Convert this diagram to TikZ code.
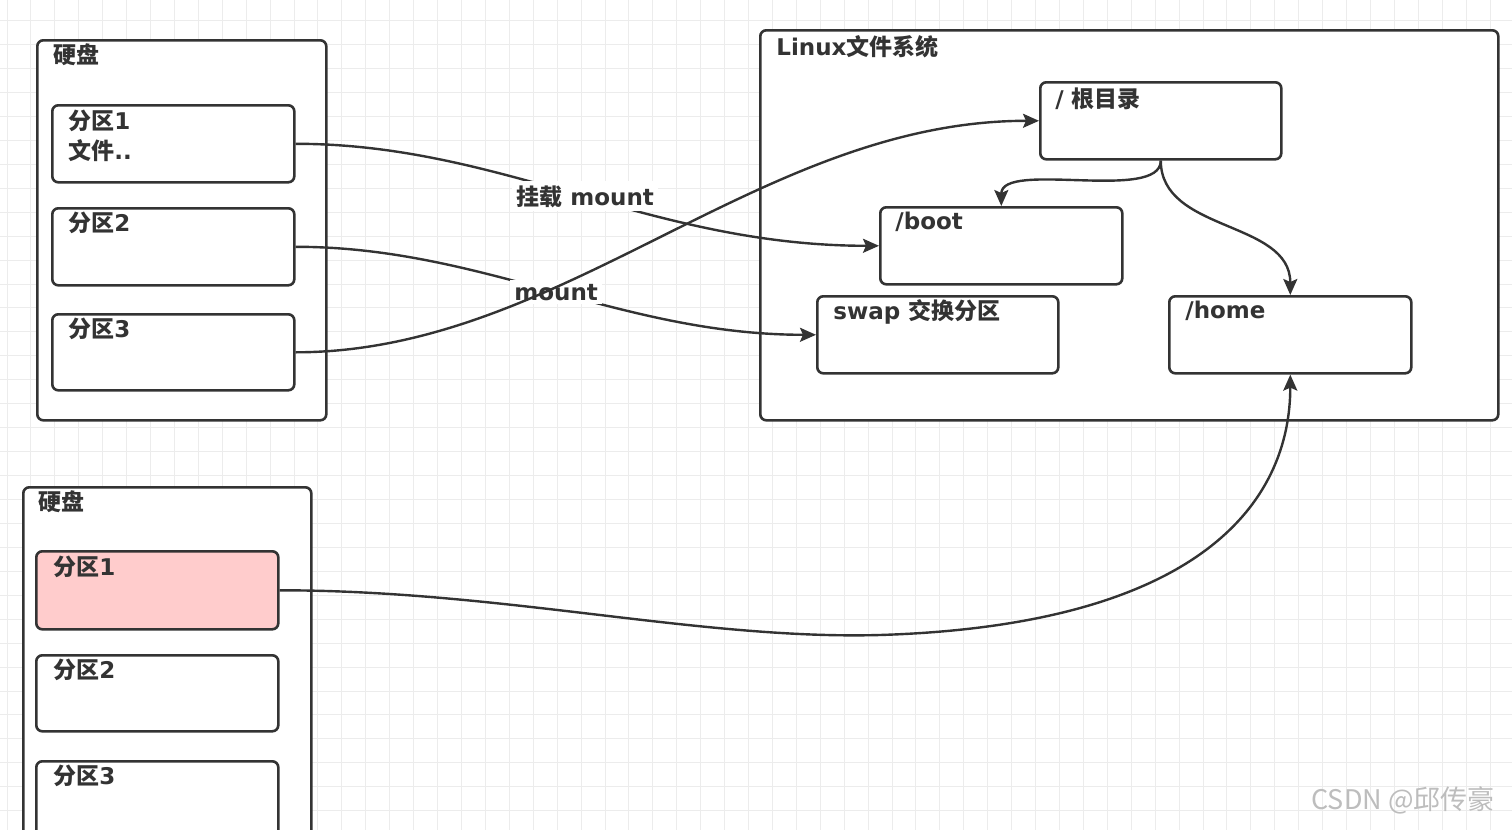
\documentclass[tikz,border=0pt]{standalone}
\usepackage{fontspec}
\setmainfont{DejaVu Sans}
\newfontfamily\cjk{Noto Sans CJK SC}
\usetikzlibrary{arrows.meta}
\definecolor{ink}{HTML}{333333}
\definecolor{gridc}{HTML}{ECECEC}
\definecolor{pinkfill}{HTML}{FFCCCC}
\definecolor{wmark}{HTML}{BDBDBD}
\begin{document}
\begin{tikzpicture}[x=0.5pt,y=-0.5pt,
  box/.style={draw=ink, line width=1.3pt, rounded corners=3pt, fill=white,
              anchor=north west, inner sep=0pt},
  txt/.style={anchor=base west, inner sep=0pt, text=ink,
              font=\bfseries\fontsize{11.5}{14}\selectfont},
  lbl/.style={anchor=base west, inner sep=2pt, fill=white, text=ink,
              font=\bfseries\fontsize{11.5}{14}\selectfont},
  link/.style={draw=ink, line width=1.2pt},
  conn/.style={link, -{Stealth[length=8pt,width=7pt,inset=1.5pt]}}]

% page frame and background grid
\clip (0,0) rectangle (1512,830);
\fill[white] (0,0) rectangle (1512,830);
\foreach \i in {0,...,63} \draw[gridc, line width=0.5pt] (7+\i*23.92,0) -- (7+\i*23.92,830);
\foreach \j in {0,...,35} \draw[gridc, line width=0.5pt] (0,-3.24+\j*23.94) -- (1512,-3.24+\j*23.94);

% first disk
\node[box, minimum width=144.5pt, minimum height=190pt] (d1) at (36,39) {};
\node[txt] (d1t) at (53,63) {\cjk 硬盘};
\node[box, minimum width=121pt, minimum height=38.5pt] (p1) at (51,104) {};
\node[txt] (p1t) at (68,129) {{\cjk 分区}1};
\node[txt] (p1f) at (68,159) {{\cjk 文件}..};
\node[box, minimum width=121pt, minimum height=38.5pt] (p2) at (51,207) {};
\node[txt] (p2t) at (68,231) {{\cjk 分区}2};
\node[box, minimum width=121pt, minimum height=38pt] (p3) at (51,313) {};
\node[txt] (p3t) at (68,337) {{\cjk 分区}3};

% Linux file system
\node[box, minimum width=369pt, minimum height=195pt] (fs) at (759,29) {};
\node[txt] (fst) at (776,55) {Linux{\cjk 文件系统}};
\node[box, minimum width=120.5pt, minimum height=38.5pt] (root) at (1039,81) {};
\node[txt] (roott) at (1055,107) {/ {\cjk 根目录}};
\node[box, minimum width=121pt, minimum height=38.5pt] (boot) at (879,206) {};
\node[txt] (boott) at (895,229) {/boot};
\node[box, minimum width=120.5pt, minimum height=38.5pt] (swap) at (816,295) {};
\node[txt] (swapt) at (833,319) {swap {\cjk 交换分区}};
\node[box, minimum width=121pt, minimum height=38.5pt] (home) at (1168,295) {};
\node[txt] (homet) at (1185,318) {/home};

% second disk
\node[box, minimum width=144pt, minimum height=190pt] (d2) at (22,486) {};
\node[txt] (d2t) at (38,510) {\cjk 硬盘};
\node[box, minimum width=121pt, minimum height=39pt, fill=pinkfill] (q1) at (35,550) {};
\node[txt] (q1t) at (53,575) {{\cjk 分区}1};
\node[box, minimum width=121pt, minimum height=38pt] (q2) at (35,654) {};
\node[txt] (q2t) at (53,678) {{\cjk 分区}2};
\node[box, minimum width=121pt, minimum height=39pt] (q3) at (35,760) {};
\node[txt] (q3t) at (53,784) {{\cjk 分区}3};

% mounts of the first disk
\draw[conn] (p1.east) .. controls +(207,0) and +(-229,0) .. (boot.west);
\draw[conn] (p2.east) .. controls +(187,0) and +(-196,0) .. (swap.west);
\node[lbl] (m1) at (512,205) {{\cjk 挂载} mount};
\node[lbl] (m2) at (510,300) {mount};
\draw[conn] (p3.east) .. controls +(267,0) and +(-279,0) .. (root.west);

% directory tree
\draw[conn] (root.south) .. controls +(0,42) and +(0,-46) .. (boot.north);
\draw[conn] (root.south) .. controls +(0,72) and +(0,-75) .. (home.north);

% second disk mounted on /home
\draw[conn] (q1.east) .. controls +(223,0) and (700,640) .. (880,635)
                      .. controls (1200,625) and +(0,128) .. (home.south);

% watermark
\node[anchor=base west, inner sep=0pt, text=wmark,
      font=\cjk\fontsize{13.5}{15}\selectfont] (wm) at (1311,809) {CSDN @邱传豪};
\end{tikzpicture}
\end{document}
